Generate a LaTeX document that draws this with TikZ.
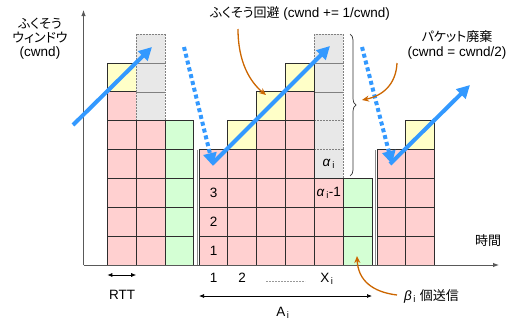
\documentclass[tikz,border=0pt]{standalone}
\usepackage{fontspec}
\setmainfont{Liberation Sans}
\newfontfamily\jp[CharacterWidth=AlternateProportional]{Noto Sans CJK JP}
\usetikzlibrary{arrows.meta,decorations.pathreplacing}
\definecolor{cpink}{RGB}{255,208,208}
\definecolor{cyel}{RGB}{255,255,200}
\definecolor{cgreen}{RGB}{212,255,212}
\definecolor{cgray}{RGB}{232,232,232}
\definecolor{cblue}{RGB}{51,153,255}
\definecolor{corange}{RGB}{204,102,0}
\definecolor{cedge}{RGB}{45,45,45}
\newcommand\J[1]{{\jp\fontsize{13}{15.5}\selectfont #1}}
\newcommand\sub[1]{\textsubscript{\,#1}}
\tikzset{
  pinkcell/.style={fill=cpink,draw=cedge,line width=1pt},
  yelcell/.style={fill=cyel,draw=cedge,line width=1pt},
  greencell/.style={fill=cgreen,draw=cedge,line width=1pt},
  graycell/.style={fill=cgray,draw=gray,line width=0.6pt,dash pattern=on 2pt off 1pt},
  axisline/.style={draw=black!65,line width=1pt,-{Latex[length=6pt,width=4.5pt]}},
  blueup/.style={draw=cblue,line width=4pt,-{Triangle[length=13pt,width=13pt]}},
  bluedot/.style={draw=cblue,line width=4pt,dash pattern=on 4pt off 3pt,-{Triangle[length=13pt,width=13pt]}},
  orangearrow/.style={draw=corange,line width=1.3pt,-{Stealth[length=7pt,width=6pt]}},
  dim/.style={draw=black,line width=0.7pt,{Latex[length=5pt,width=4pt]}-{Latex[length=5pt,width=4pt]}},
  txt/.style={inner sep=0pt}
}
\newcommand\mycell[3]{\path[#1] (#2,{265-28.85*#3}) rectangle ++(28.85,-28.85);}
\begin{document}
\begin{tikzpicture}[x=1pt,y=-1pt,font=\fontsize{13.5}{16}\selectfont]
\useasboundingbox (0,0) rectangle (513,324);
% group 1
\foreach \k in {0,...,5} {\mycell{pinkcell}{107.3}{\k}}
\mycell{yelcell}{107.3}{6}
\foreach \k in {5,6,7} {\mycell{graycell}{136.15}{\k}}
\foreach \k in {0,...,4} {\mycell{pinkcell}{136.15}{\k}}
\foreach \k in {0,...,4} {\mycell{greencell}{165}{\k}}
% group 2
\foreach \k in {3,...,7} {\mycell{graycell}{314.4}{\k}}
\foreach \k in {0,...,3} {\mycell{pinkcell}{199}{\k}}
\foreach \k in {0,...,3} {\mycell{pinkcell}{227.85}{\k}}
\mycell{yelcell}{227.85}{4}
\foreach \k in {0,...,4} {\mycell{pinkcell}{256.7}{\k}}
\mycell{yelcell}{256.7}{5}
\foreach \k in {0,...,5} {\mycell{pinkcell}{285.55}{\k}}
\mycell{yelcell}{285.55}{6}
\foreach \k in {0,...,2} {\mycell{pinkcell}{314.4}{\k}}
\foreach \k in {0,...,2} {\mycell{greencell}{343.25}{\k}}
% group 3
\foreach \k in {0,...,3} {\mycell{pinkcell}{377}{\k}}
\foreach \k in {0,...,3} {\mycell{pinkcell}{405.85}{\k}}
\mycell{yelcell}{405.85}{4}
% group shadow edges
\draw[black!45,line width=1.5pt] (197.5,265) -- (197.5,149.6);
\draw[black!45,line width=1.5pt] (375.5,265) -- (375.5,149.6);
% axes
\coordinate (O) at (83.5,265);
\coordinate (ytop) at (83.5,10);
\coordinate (xend) at (499,265);
\draw[axisline] (O) -- (ytop);
\draw[axisline] (O) -- (xend);
% labels in cells
\node[txt] (n3) at (213.5,193) {3};
\node[txt] (n2) at (213.5,222) {2};
\node[txt] (n1) at (213.5,251) {1};
\node[txt] (al) at (328.8,164) {\textit{α}\sub{i}};
\node[txt] (al1) at (328.8,193) {\textit{α}\sub{i}-1};
% blue arrows
\coordinate (b1s) at (73,125); \coordinate (b1e) at (152,47);
\coordinate (b2s) at (212,164); \coordinate (b2e) at (330,46);
\coordinate (b3s) at (390,164); \coordinate (b3e) at (470,85);
\coordinate (d1s) at (184,47); \coordinate (d1e) at (213,166);
\coordinate (d2s) at (362,47); \coordinate (d2e) at (392,164);
\draw[bluedot] (d1s) -- (d1e);
\draw[bluedot] (d2s) -- (d2e);
\draw[blueup] (b1s) -- (b1e);
\draw[blueup] (b2s) -- (b2e);
\draw[blueup] (b3s) -- (b3e);
% brace
\coordinate (brt) at (350,34);
\coordinate (brb) at (350,176);
\draw[black!80,line width=0.7pt,decorate,decoration={brace,amplitude=6pt,raise=0pt}] (brt) -- (brb);
% top labels
\node[txt] (ylab) at (40,39) {\begin{tabular}{@{}c@{}}\J{ふくそう}\\[-2pt]\J{ウィンドウ}\\[-2pt](cwnd)\end{tabular}};
\node[txt] (avoid) at (300,13) {\J{ふくそう回避} (cwnd += 1/cwnd)};
\node[txt] (drop) at (457,37) {\J{パケット廃棄}};
\node[txt] (drop2) at (457,53) {(cwnd = cwnd/2)};
\node[txt] (time) at (488,241) {\J{時間}};
% orange arrows
\coordinate (o1s) at (238,29); \coordinate (o1e) at (266,95);
\draw[orangearrow] (o1s) .. controls (238,62) and (250,82) .. (o1e);
\coordinate (o2s) at (397,63); \coordinate (o2e) at (362,100);
\draw[orangearrow] (o2s) .. controls (396,85) and (382,96) .. (o2e);
\node[txt,anchor=west] (beta) at (404,296) {\textit{β}\sub{i} \J{個送信}};
\coordinate (o3s) at (397,295);
\coordinate (o3e) at (357,256);
\draw[orangearrow] (o3s) .. controls (372,292) and (358,280) .. (o3e);
% bottom annotations
\coordinate (rttl) at (107.3,275); \coordinate (rttr) at (136.15,275);
\draw[dim] (rttl) -- (rttr);
\node[txt] (rtt) at (122,295) {RTT};
\node[txt] (x1) at (213.5,278) {1};
\node[txt] (x2) at (242,278) {2};
\coordinate (dl) at (266,281); \coordinate (dr) at (305,281);
\draw[black!40,line width=0.5pt,dash pattern=on 2pt off 1pt] (dl) -- (dr);
\node[txt] (xi) at (327,279) {X\sub{i}};
\coordinate (al0) at (199,296); \coordinate (ar0) at (372,296);
\draw[dim] (al0) -- (ar0);
\node[txt] (ai) at (283,313) {A\sub{i}};
\end{tikzpicture}
\end{document}
